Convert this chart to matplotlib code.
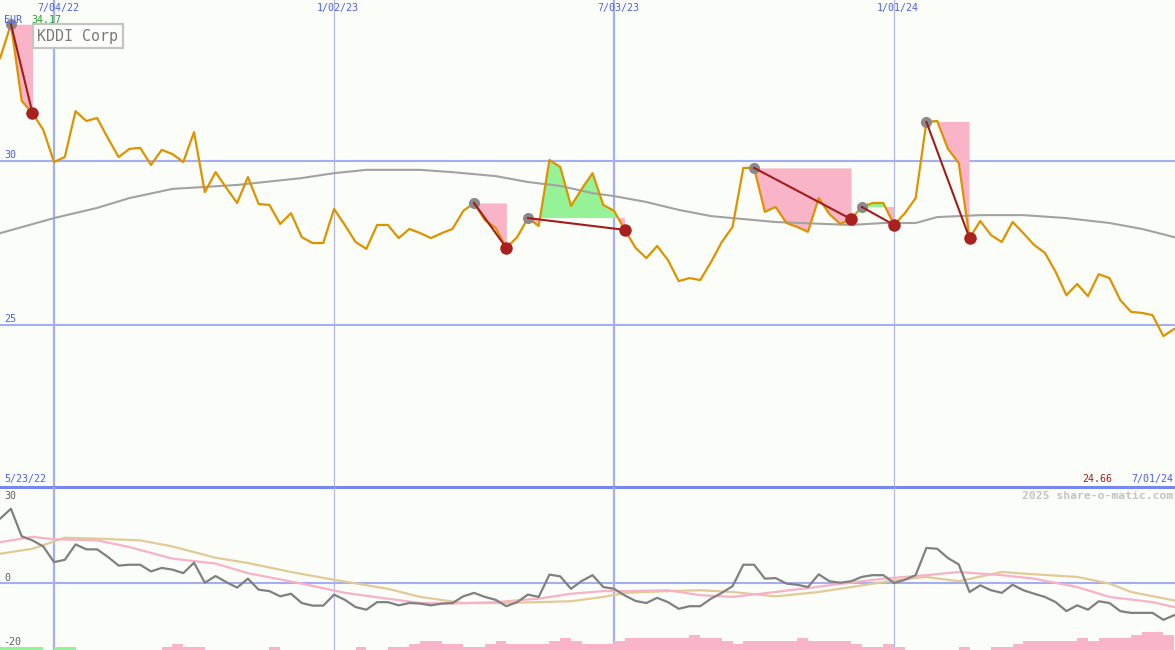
import numpy as np
import matplotlib
matplotlib.use('Agg')
import matplotlib.pyplot as plt

# weekly closes (EUR), first point 5/30/22, last 7/01/24
price = [33.14, 34.17, 31.83, 31.46, 30.95, 29.97, 30.12, 31.52, 31.22, 31.31,
         30.70, 30.12, 30.37, 30.40, 29.88, 30.34, 30.21, 29.97, 30.88, 29.05,
         29.66, 29.18, 28.72, 29.51, 28.69, 28.66, 28.08, 28.41, 27.68, 27.50,
         27.50, 28.54, 28.05, 27.53, 27.32, 28.05, 28.05, 27.65, 27.93, 27.80,
         27.65, 27.80, 27.93, 28.48, 28.72, 28.20, 27.96, 27.35, 27.68, 28.26,
         28.02, 30.03, 29.82, 28.63, 29.15, 29.63, 28.66, 28.48, 27.90, 27.35,
         27.04, 27.41, 26.98, 26.34, 26.43, 26.37, 26.92, 27.53, 27.99, 29.79,
         29.79, 28.45, 28.60, 28.11, 27.99, 27.84, 28.87, 28.38, 28.08, 28.23,
         28.60, 28.72, 28.72, 28.05, 28.41, 28.87, 31.19, 31.22, 30.37, 29.94,
         27.65, 28.17, 27.74, 27.53, 28.14, 27.80, 27.44, 27.20, 26.62, 25.91,
         26.25, 25.88, 26.55, 26.43, 25.76, 25.40, 25.37, 25.30, 24.66, 24.88]

# long moving average (grey), sampled
ma_weeks = [1, 6, 10, 13, 17, 20, 23, 29, 32, 35, 40, 43, 47, 50, 53, 56, 58, 61, 64, 67,
            70, 73, 80, 83, 86, 88, 92, 96, 100, 104, 107, 110]
ma_vals = [27.80, 28.26, 28.57, 28.87, 29.15, 29.21, 29.27, 29.48, 29.63, 29.73, 29.73,
           29.66, 29.54, 29.36, 29.24, 29.02, 28.93, 28.75, 28.51, 28.32, 28.23, 28.14,
           28.05, 28.11, 28.11, 28.29, 28.35, 28.35, 28.26, 28.11, 27.93, 27.68]

# trades: (entry week, exit week)
trades = [(2, 4), (45, 48), (50, 59), (71, 80), (81, 84), (87, 91)]

# oscillator (lower panel)
osc = [22.2, 25.6, 16.1, 14.7, 12.6, 7.2, 8.0, 13.3, 11.6, 11.6, 9.0, 6.0, 6.3, 6.3, 4.0,
       5.2, 4.6, 3.4, 7.0, 0.1, 2.4, 0.3, -1.6, 1.5, -2.3, -2.8, -4.6, -3.7, -6.9, -7.8,
       -7.8, -4.0, -5.8, -8.3, -9.2, -6.6, -6.6, -7.7, -6.9, -7.1, -7.7, -7.1, -6.9, -4.6,
       -3.4, -4.8, -5.8, -8.0, -6.6, -4.0, -4.8, 2.9, 2.3, -2.0, 0.7, 2.7, -1.4, -2.0, -4.3,
       -6.2, -6.9, -5.1, -6.6, -8.9, -8.0, -8.0, -5.4, -3.4, -1.1, 6.3, 6.3, 1.5, 1.7, -0.2,
       -0.6, -1.4, 3.0, 0.6, 0.1, 0.6, 2.1, 2.7, 2.7, 0.0, 1.1, 2.7, 12.1, 11.8, 8.6, 6.4,
       -3.1, -0.8, -2.5, -3.4, -0.6, -2.5, -3.7, -4.8, -6.6, -9.7, -7.7, -9.2, -6.3, -6.9,
       -9.7, -10.3, -10.3, -10.3, -12.7, -11.1]

pink_weeks = [1, 4, 6, 10, 13, 17, 21, 24, 29, 33, 37, 40, 43, 47, 51, 54, 57, 59, 63, 66,
              69, 73, 78, 83, 87, 90, 94, 97, 101, 104, 108, 110]
pink_vals = [14.1, 15.9, 15.1, 14.7, 12.4, 8.4, 6.7, 3.4, -0.2, -3.4, -5.4, -6.9, -7.1,
             -6.6, -5.4, -3.7, -2.8, -2.8, -2.5, -4.2, -4.8, -3.1, -0.8, 1.5, 2.7, 3.8,
             2.7, 1.5, -1.4, -4.8, -6.6, -8.3]

tan_weeks = [1, 4, 7, 10, 14, 17, 21, 24, 28, 32, 37, 40, 44, 47, 51, 54, 57, 59, 63, 66,
             69, 73, 77, 80, 84, 87, 90, 94, 97, 101, 104, 106, 110]
tan_vals = [10.1, 11.8, 15.6, 15.3, 14.7, 12.6, 8.7, 6.9, 3.8, 1.1, -2.0, -4.8, -6.9,
            -6.9, -6.6, -6.3, -4.8, -3.4, -2.8, -2.5, -3.1, -4.6, -3.1, -1.4, 0.9, 2.1,
            0.6, 3.8, 3.0, 2.1, -0.2, -3.1, -6.0]

# bottom histogram blocks (levels)
green_weeks = [1, 2, 3, 4, 6, 7]
green_lvl = [1, 1, 1, 1, 1, 1]
bar_weeks = [16, 17, 18, 19, 26, 34, 37, 38, 39, 40, 41, 42, 43, 44, 45, 46, 47, 48, 49, 50,
             51, 52, 53, 54, 55, 56, 57, 58, 59, 60, 61, 62, 63, 64, 65, 66, 67, 68, 69, 70,
             71, 72, 73, 74, 75, 76, 77, 78, 79, 80, 81, 82, 83, 84, 90, 93, 94, 95, 96, 97,
             98, 99, 100, 101, 102, 103, 104, 105, 106, 107, 108, 109]
bar_lvl = [1, 2, 1, 1, 1, 1, 1, 1, 2, 3, 3, 2, 2, 1, 1, 2, 3, 2, 2, 2,
           2, 3, 4, 3, 2, 2, 2, 3, 4, 4, 4, 4, 4, 4, 5, 4, 4, 3, 2, 3,
           3, 3, 3, 3, 4, 3, 3, 3, 3, 2, 1, 1, 2, 1, 1, 1, 1, 2, 3, 3,
           3, 3, 3, 4, 3, 4, 4, 4, 5, 6, 6, 5]

grid_weeks = [6, 32, 58, 84]
grid_labels = ['7/04/22', '1/02/23', '7/03/23', '1/01/24']
grid_thick = [True, False, True, False]

weeks = np.arange(1, len(price) + 1)
p = np.array(price)

bg = '#fbfdf8'
blue = '#a4aef0'
thin = '#b4b8dc'
txt_blue = '#4a5ef0'
pink = '#f9b4c8'
green = '#96f296'
orange = '#dd9300'
mono = 'DejaVu Sans Mono'

W, H = 1175, 650
fig = plt.figure(figsize=(W / 100, H / 100), dpi=100, facecolor=bg)
ax = fig.add_axes([0, 163 / H, 1, 487 / H])
ax2 = fig.add_axes([0, 0, 1, 163 / H])
xlo, xhi = 0.984, 110.08
for a in (ax, ax2):
    a.set_facecolor('none')
    a.set_xlim(xlo, xhi)
    for s in a.spines.values():
        s.set_visible(False)
    a.set_xticks([])
    a.set_yticks([])
ax.set_ylim(20.061, 34.909)
ax2.set_ylim(-23.1, 33.1)

for a in (ax, ax2):
    for gw, thick in zip(grid_weeks, grid_thick):
        if thick:
            a.axvline(gw, color=blue, lw=1.6, zorder=1)
        else:
            a.axvline(gw, color=thin, lw=0.9, zorder=1)
ax.axhline(30, color=blue, lw=1.5, zorder=1)
ax.axhline(25, color=blue, lw=1.5, zorder=1)
ax.axhline(20.061, color='#7886f0', lw=2.2, zorder=5, clip_on=False)
ax2.axhline(0, color=blue, lw=1.5, zorder=1)

# trade fills
for e, x in trades:
    seg = (weeks >= e) & (weeks <= x)
    ws, ps = weeks[seg], p[seg]
    lvl = p[e - 1]
    ax.fill_between(ws, lvl, ps, where=ps <= lvl, interpolate=True, color=pink, lw=0, zorder=2)
    ax.fill_between(ws, lvl, ps, where=ps >= lvl, interpolate=True, color=green, lw=0, zorder=2)

ax.plot(ma_weeks, ma_vals, color='#a2a2a2', lw=1.5, zorder=3)
ax.plot(weeks, p, color=orange, lw=1.6, zorder=4)
for e, x in trades:
    ax.plot(e, p[e - 1], 'o', color='#8a8a8a', ms=8, mec='none', zorder=5)
    ax.plot([e, x], [p[e - 1], p[x - 1]], color='#a21c1c', lw=1.5, zorder=6)
    ax.plot(x, p[x - 1], 'o', color='#a82020', ms=9, mec='none', zorder=7)

# lower panel
unit = 1.05
ax2.bar(green_weeks, np.array(green_lvl) * unit, bottom=-23.1, width=1, align='edge',
        color=green, lw=0, zorder=2)
ax2.bar(bar_weeks, np.array(bar_lvl) * unit, bottom=-23.1, width=1, align='edge',
        color=pink, lw=0, zorder=2)
ax2.plot(tan_weeks, tan_vals, color='#e2ca98', lw=1.6, zorder=3)
ax2.plot(pink_weeks, pink_vals, color='#f7b2c8', lw=1.6, zorder=3)
ax2.plot(weeks, osc, color='#808080', lw=1.6, zorder=4)

# texts (pixel positions)
def ptext(x, y, s, **kw):
    fig.text(x / W, 1 - y / H, s, family=mono, va='center', **kw)

for gw, lab in zip(grid_weeks, grid_labels):
    px = (gw - xlo) / (xhi - xlo) * W
    ptext(px + 4, 8, lab, fontsize=7.2, color=txt_blue, ha='center')
ptext(4, 20, 'EUR', fontsize=7.2, color=txt_blue)
ptext(31, 20, '%.2f' % max(price), fontsize=7.2, color='#22a022')
ptext(4, 155, '30', fontsize=7.2, color=txt_blue)
ptext(4, 319, '25', fontsize=7.2, color=txt_blue)
ptext(4, 479, '5/23/22', fontsize=7.2, color=txt_blue)
ptext(1112, 479, '%.2f' % min(price), fontsize=7.2, color='#a21c1c', ha='right')
ptext(1173, 479, '7/01/24', fontsize=7.2, color=txt_blue, ha='right')
ptext(4, 496, '30', fontsize=7.2, color='#606060')
ptext(4, 578, '0', fontsize=7.2, color='#606060')
ptext(3, 642, '-20', fontsize=7.2, color='#606060')
ptext(1173, 496, '2025 share-o-matic.com', fontsize=8.2, color='#c4c4c4', ha='right',
      weight='bold')
fig.text(37 / W, 1 - 36 / H, 'KDDI Corp', family=mono, fontsize=10.8, color='#7a7a7a',
         va='center', ha='left',
         bbox=dict(boxstyle='square,pad=0.3', fc='#fdfefc', ec='#c4c4c4', lw=1.6))

fig.savefig('out.png', dpi=100, facecolor=bg)
